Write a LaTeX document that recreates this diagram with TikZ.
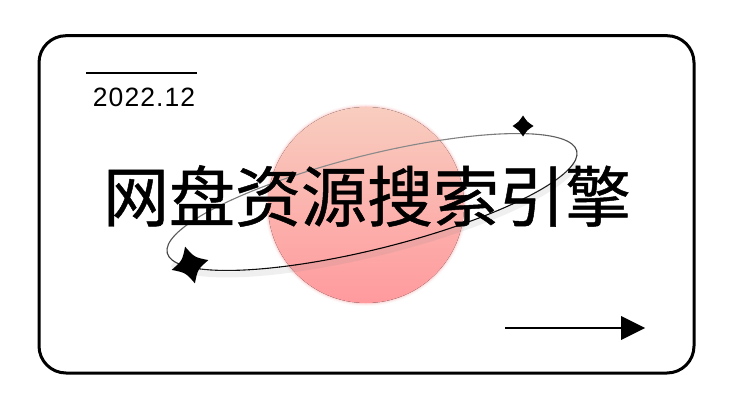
\documentclass[tikz,border=0pt]{standalone}
\usepackage{fontspec}
\setmainfont{Liberation Sans}
\newfontfamily\datefont{Liberation Sans}[LetterSpace=4]
\newfontfamily\cjk{Noto Sans CJK SC}[FakeBold=0.7]
\definecolor{circtop}{HTML}{F8CDBF}
\definecolor{circbot}{HTML}{FF9A9E}
\colorlet{elup}{black!40}
\tikzset{
  frame/.style={draw=black, line width=3pt, rounded corners=27pt},
  rule/.style={draw=black, line width=2.5pt},
  datetext/.style={font=\datefont\fontsize{26.5}{26.5}\selectfont, inner sep=0pt},
  titletext/.style={font=\cjk\fontsize{66}{66}\selectfont, inner sep=0pt, text=black},
  starshape/.style={fill=black},
  arrowline/.style={draw=black, line width=2pt},
  arrowhead/.style={fill=black},
}
\newcommand\fourstar[5]{% x, y, radius, rotation, fatness
  \fill[starshape, shift={(#1,#2)}, rotate=#4]
    (0,#3) .. controls (#5*#3,#5*#3) .. (#3,0)
    .. controls (#5*#3,-#5*#3) .. (0,-#3)
    .. controls (-#5*#3,-#5*#3) .. (-#3,0)
    .. controls (-#5*#3,#5*#3) .. cycle;}
\begin{document}
\begin{tikzpicture}[x=1pt,y=1pt]
\useasboundingbox (0,0) rectangle (735,413);
\fill[white] (0,0) rectangle (735,413);
% frame
\draw[frame] (39,40) rectangle (694,377.3);
% top rule and date
\coordinate (ruleL) at (86,340);
\coordinate (ruleR) at (197,340);
\draw[rule] (ruleL) -- (ruleR);
\node[datetext] (date) at (144,315.5) {2022.12};
% circle with soft edge
\foreach \r/\o in {101/0.08,100/0.15,99/0.3}{
  \fill[circbot!70!circtop, opacity=\o] (366,208) circle (\r);
}
\fill[top color=circtop, bottom color=circbot] (366,208) circle (98);
% ellipse shadow
\begin{scope}[shift={(372,207)}, rotate=14]
  \draw[gray, opacity=0.12, line width=6pt] (190:211 and 47) arc[start angle=190, end angle=350, x radius=211, y radius=47];
\end{scope}
% ellipse (orbit) with graded colour
\begin{scope}[shift={(372,211)}, rotate=14]
  \foreach \a in {0,5,...,355}{
    \pgfmathtruncatemacro\p{55-45*sin(\a+2.5)}
    \draw[black!\p!elup, line width=1.1pt, line cap=round]
      (\a:211 and 47) arc[start angle=\a, end angle=\a+5, x radius=211, y radius=47];
  }
\end{scope}
% title
\node[titletext] (title) at (367,217) {网盘资源搜索引擎};
% stars
\fourstar{523}{287}{10.5}{0}{0.4}
\fourstar{190}{148}{19}{15}{0.33}
% arrow
\coordinate (arrS) at (505,85);
\coordinate (arrB) at (621,85);
\coordinate (arrT) at (645,85);
\draw[arrowline] (arrS) -- (arrB);
\fill[arrowhead] (arrT) -- ([yshift=12pt]arrB) -- ([yshift=-12pt]arrB) -- cycle;
\end{tikzpicture}
\end{document}
